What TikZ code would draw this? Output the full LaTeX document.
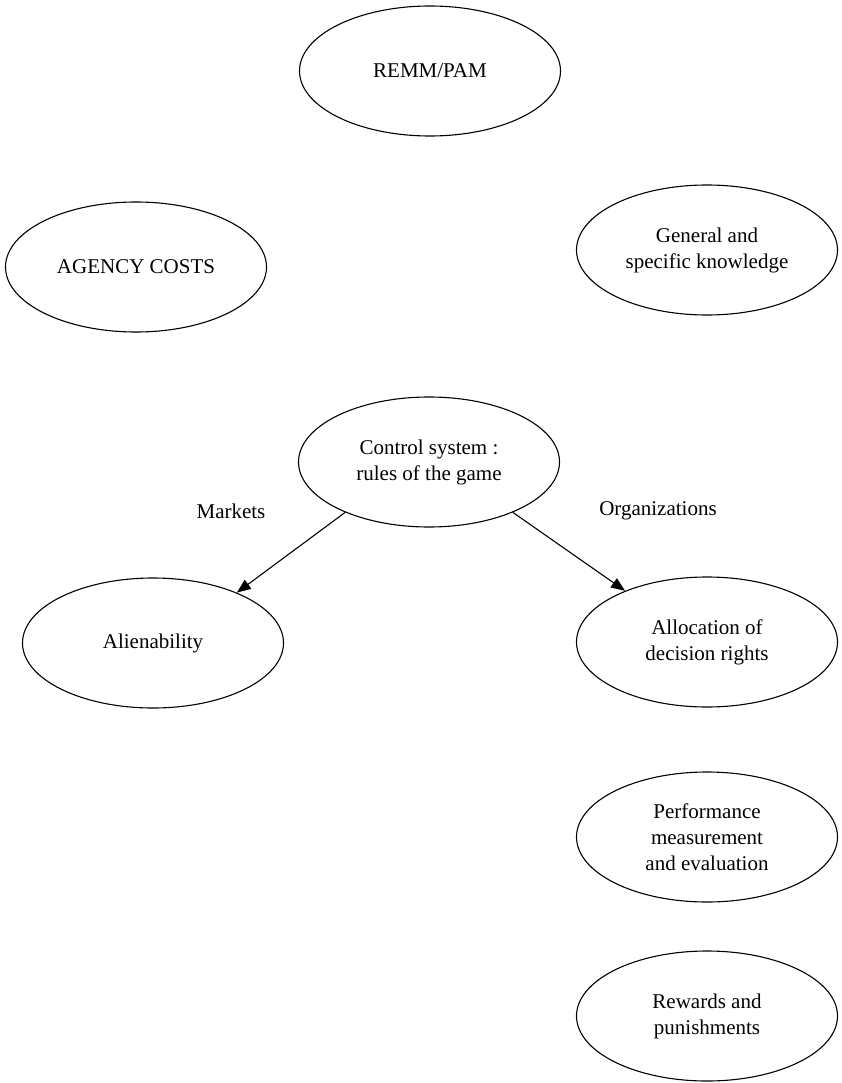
\documentclass[tikz,border=0pt]{standalone}
\usepackage{fontspec}
\setmainfont{Liberation Serif}
\usetikzlibrary{arrows.meta,shapes.geometric}

\begin{document}
\begin{tikzpicture}[->,>={Triangle[length=14pt,width=11pt]},x=1pt,y=-1pt,
  line width=1.1pt,
  main node/.style={ellipse,draw,minimum width=261pt,minimum height=130pt,
    inner sep=0pt,align=center,font=\fontsize{21}{26}\selectfont},
  edge label/.style={font=\fontsize{21}{26}\selectfont}]

  \useasboundingbox (0,0) rectangle (842,1083);

  \node[main node] (remm) at (430,71) {REMM/PAM};
  \node[main node] (agency) at (136,267) {AGENCY COSTS};
  \node[main node] (know) at (707,250) {General and\\specific knowledge};
  \node[main node] (ctrl) at (429,462) {Control system :\\rules of the game};
  \node[main node] (alien) at (153,643) {Alienability};
  \node[main node] (alloc) at (707,642) {Allocation of\\decision rights};
  \node[main node] (perf) at (707,837) {Performance\\measurement\\and evaluation};
  \node[main node] (reward) at (707,1016) {Rewards and\\punishments};

  \node[edge label] (mkt) at (231,511) {Markets};
  \node[edge label] (org) at (658,511) {Organizations};

  \path
    (ctrl.211) edge (alien.31)
    (ctrl.329) edge (alloc.148);
\end{tikzpicture}
\end{document}
